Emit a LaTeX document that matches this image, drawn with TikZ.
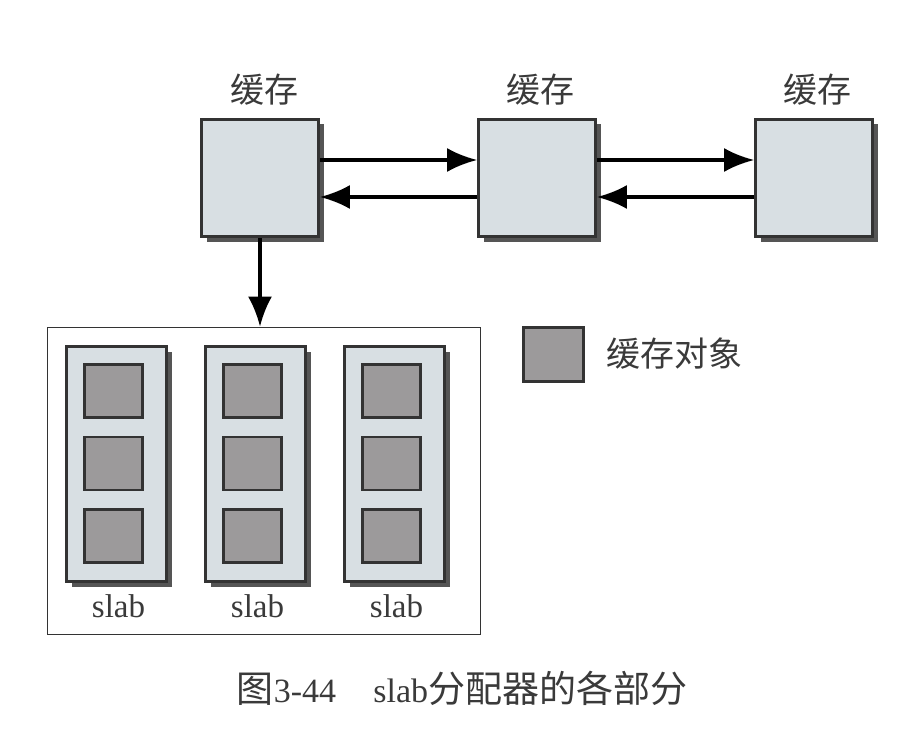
\documentclass[tikz,border=0pt]{standalone}
\usepackage{fontspec}
\setmainfont{Liberation Serif}
\newfontfamily\cjk{Noto Sans CJK SC}
\usetikzlibrary{shadows,arrows.meta}
\definecolor{cachefill}{HTML}{D8DFE3}
\definecolor{objfill}{HTML}{9C9A9B}
\definecolor{edgec}{HTML}{333333}
\definecolor{shade}{HTML}{555555}
\definecolor{txt}{HTML}{3A3A3A}
\begin{document}
\begin{tikzpicture}[x=1pt,y=-1pt,
  cachebox/.style={draw=edgec, line width=2.8pt, fill=cachefill, minimum width=117pt, minimum height=117pt, inner sep=0pt,
    drop shadow={shadow xshift=5pt, shadow yshift=-5pt, fill=shade, opacity=1}},
  slabbox/.style={draw=edgec, line width=2.8pt, fill=cachefill, minimum width=100pt, minimum height=235pt, inner sep=0pt,
    drop shadow={shadow xshift=5pt, shadow yshift=-5pt, fill=shade, opacity=1}},
  objbox/.style={draw=edgec, line width=2.8pt, fill=objfill, minimum width=58pt, minimum height=53pt, inner sep=0pt},
  lbl/.style={font=\cjk\fontsize{34}{36}\selectfont, text=txt, inner sep=0pt},
  slablbl/.style={font=\fontsize{33}{34}\selectfont, text=txt, inner sep=0pt},
  arr/.style={line width=3.2pt, draw=black, -{Latex[length=30pt,width=24pt]}}
]
\useasboundingbox (0,0) rectangle (901,735);
% caches
\node[cachebox] (c1) at (260,178) {};
\node[cachebox] (c2) at (537,178) {};
\node[cachebox] (c3) at (814,178) {};
\node[lbl] (l1) at (264,90) {缓存};
\node[lbl] (l2) at (540,90) {缓存};
\node[lbl] (l3) at (817,90) {缓存};
\draw[arr] ([yshift=18pt]c1.east) -- ([yshift=18pt]c2.west);
\draw[arr] ([yshift=-19pt]c2.west) -- ([yshift=-19pt]c1.east);
\draw[arr] ([yshift=18pt]c2.east) -- ([yshift=18pt]c3.west);
\draw[arr] ([yshift=-19pt]c3.west) -- ([yshift=-19pt]c2.east);
% pool
\node[draw=edgec, line width=1.8pt, minimum width=433pt, minimum height=307pt, inner sep=0pt] (pool) at (264,481) {};
\draw[arr] (c1.south) -- (c1.south |- pool.north);
% slabs
\foreach \i/\x in {1/116.5, 2/255.5, 3/394.5}{
  \node[slabbox] (s\i) at (\x,464) {};
  \node[objbox] (o\i a) at (\x-3,391) {};
  \node[objbox] (o\i b) at (\x-3,463.5) {};
  \node[objbox] (o\i c) at (\x-3,536) {};
  \node[slablbl] (t\i) at (\x+2,606) {slab};
}
% legend
\node[objbox, minimum width=60pt, minimum height=54pt] (leg) at (553.5,354.5) {};
\node[lbl, anchor=west] (legt) at (606,354) {缓存对象};
% caption
\node[font=\fontsize{34}{36}\selectfont, text=txt, inner sep=0pt] (cap) at (462,688) {{\cjk\fontsize{37}{38}\selectfont 图}3-44\hspace{1.1em}slab{\cjk\fontsize{37}{38}\selectfont 分配器的各部分}};
\end{tikzpicture}
\end{document}
